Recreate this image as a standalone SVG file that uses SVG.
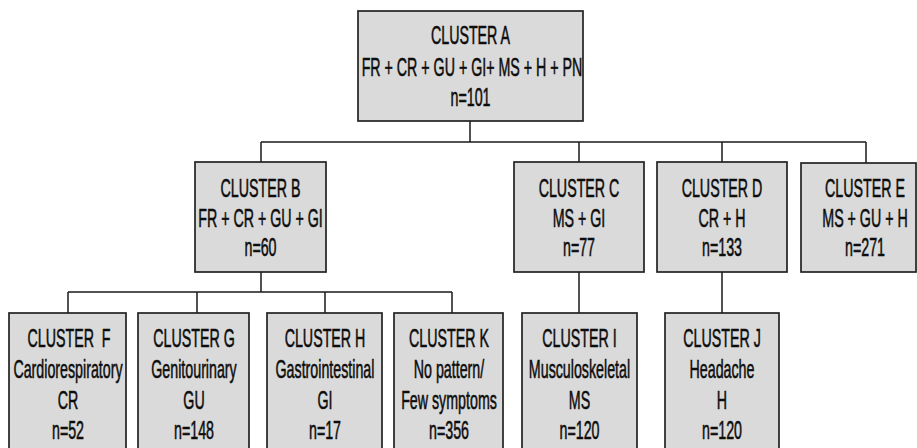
<svg xmlns="http://www.w3.org/2000/svg" width="917" height="448" viewBox="0 0 917 448">
<style>
.box{fill:#dadada;stroke:#222222;stroke-width:1.7}
.t{font-family:"Liberation Sans",Arial,sans-serif;font-size:25px;fill:#0d0d0d;stroke:#0d0d0d;stroke-width:0.55;text-anchor:middle}
.c{stroke:#1a1a1a;stroke-width:1.5;fill:none}
</style>
<rect width="917" height="448" fill="#ffffff"/>
<g id="connectors">
<path class="c" d="M470,121V142M261,142H866M261,142V162M579,142V162M722,142V162M866,142V163"/>
<path class="c" d="M261,272V292M68,292H452M68,292V313M197,292V313M325,292V313M452,292V313"/>
<path class="c" d="M579,272V313M722,272V313"/>
</g>
<g id="clusterA">
<rect class="box" x="358" y="11" width="225" height="110"/>
<text class="t" transform="matrix(0.57 0 0 1 470.5 44)">CLUSTER A</text>
<text class="t" transform="matrix(0.57 0 0 1 472 76)">FR + CR + GU + GI+ MS + H + PN</text>
<text class="t" transform="matrix(0.57 0 0 1 470.5 106)">n=101</text>
</g>
<g id="clusterB">
<rect class="box" x="195" y="162" width="131" height="110"/>
<text class="t" transform="matrix(0.57 0 0 1 260.5 197)">CLUSTER B</text>
<text class="t" transform="matrix(0.57 0 0 1 260.5 227)">FR + CR + GU + GI</text>
<text class="t" transform="matrix(0.57 0 0 1 260.5 256)">n=60</text>
</g>
<g id="clusterC">
<rect class="box" x="514" y="162" width="130" height="110"/>
<text class="t" transform="matrix(0.57 0 0 1 579 197)">CLUSTER C</text>
<text class="t" transform="matrix(0.57 0 0 1 579 227)">MS + GI</text>
<text class="t" transform="matrix(0.57 0 0 1 579 256)">n=77</text>
</g>
<g id="clusterD">
<rect class="box" x="657" y="162" width="130" height="110"/>
<text class="t" transform="matrix(0.57 0 0 1 722 197)">CLUSTER D</text>
<text class="t" transform="matrix(0.57 0 0 1 722 227)">CR + H</text>
<text class="t" transform="matrix(0.57 0 0 1 722 256)">n=133</text>
</g>
<g id="clusterE">
<rect class="box" x="801" y="163" width="115" height="109"/>
<text class="t" transform="matrix(0.57 0 0 1 865 197)">CLUSTER E</text>
<text class="t" transform="matrix(0.57 0 0 1 865 227)">MS + GU + H</text>
<text class="t" transform="matrix(0.57 0 0 1 865 256)">n=271</text>
</g>
<g id="clusterF">
<rect class="box" x="9" y="313" width="117" height="140"/>
<text class="t" transform="matrix(0.57 0 0 1 69 347)" xml:space="preserve">CLUSTER  F</text>
<text class="t" transform="matrix(0.57 0 0 1 68 378)">Cardiorespiratory</text>
<text class="t" transform="matrix(0.57 0 0 1 68 409)">CR</text>
<text class="t" transform="matrix(0.57 0 0 1 68 439)">n=52</text>
</g>
<g id="clusterG">
<rect class="box" x="138" y="313" width="111" height="140"/>
<text class="t" transform="matrix(0.57 0 0 1 194 347)">CLUSTER G</text>
<text class="t" transform="matrix(0.57 0 0 1 194 378)">Genitourinary</text>
<text class="t" transform="matrix(0.57 0 0 1 194 409)">GU</text>
<text class="t" transform="matrix(0.57 0 0 1 194 439)">n=148</text>
</g>
<g id="clusterH">
<rect class="box" x="267" y="313" width="115" height="140"/>
<text class="t" transform="matrix(0.57 0 0 1 325 347)">CLUSTER H</text>
<text class="t" transform="matrix(0.57 0 0 1 325 378)">Gastrointestinal</text>
<text class="t" transform="matrix(0.57 0 0 1 325 409)">GI</text>
<text class="t" transform="matrix(0.57 0 0 1 325 439)">n=17</text>
</g>
<g id="clusterK">
<rect class="box" x="394" y="313" width="109" height="140"/>
<text class="t" transform="matrix(0.57 0 0 1 449 347)">CLUSTER K</text>
<text class="t" transform="matrix(0.57 0 0 1 449 378)">No pattern/</text>
<text class="t" transform="matrix(0.57 0 0 1 449 409)">Few symptoms</text>
<text class="t" transform="matrix(0.57 0 0 1 449 439)">n=356</text>
</g>
<g id="clusterI">
<rect class="box" x="522" y="313" width="115" height="140"/>
<text class="t" transform="matrix(0.57 0 0 1 579.5 347)">CLUSTER I</text>
<text class="t" transform="matrix(0.57 0 0 1 579.5 378)">Musculoskeletal</text>
<text class="t" transform="matrix(0.57 0 0 1 579.5 409)">MS</text>
<text class="t" transform="matrix(0.57 0 0 1 579.5 439)">n=120</text>
</g>
<g id="clusterJ">
<rect class="box" x="665" y="313" width="114" height="140"/>
<text class="t" transform="matrix(0.57 0 0 1 722 347)">CLUSTER J</text>
<text class="t" transform="matrix(0.57 0 0 1 722 378)">Headache</text>
<text class="t" transform="matrix(0.57 0 0 1 722 409)">H</text>
<text class="t" transform="matrix(0.57 0 0 1 722 439)">n=120</text>
</g>
</svg>
